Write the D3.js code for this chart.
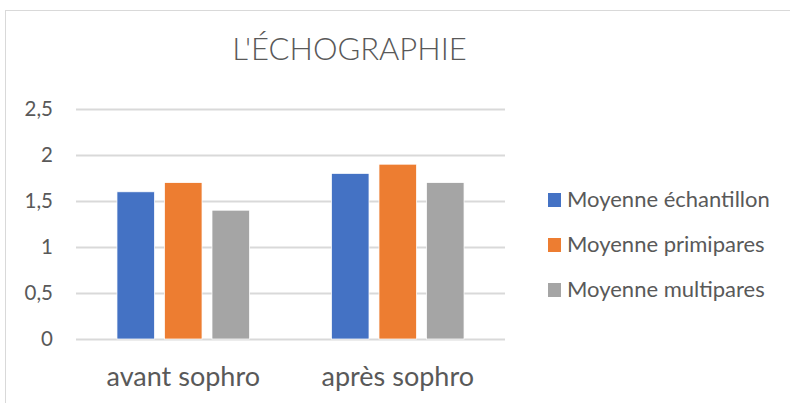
<!DOCTYPE html>
<html><head><meta charset="utf-8">
<script src="https://cdn.jsdelivr.net/npm/d3@7"></script>
<style>html,body{margin:0;padding:0;background:#fff;}svg{display:block;}</style>
</head><body>
<svg id="chart" width="790" height="403"></svg>
<script>
const title = "L'ÉCHOGRAPHIE";
const categories = ["avant sophro", "après sophro"];
const seriesNames = ["Moyenne échantillon", "Moyenne primipares", "Moyenne multipares"];
const seriesColors = ["#4472C4", "#ED7D31", "#A5A5A5"];
const echantillon = [1.6, 1.8];
const primipares = [1.7, 1.9];
const multipares = [1.4, 1.7];
const yTicks = [0, 0.5, 1, 1.5, 2, 2.5];
const yTickLabels = ["0", "0,5", "1", "1,5", "2", "2,5"];

(function () {
const seriesValues = [echantillon, primipares, multipares];
const font = "Lato, 'Open Sans', sans-serif";
const textColor = "#595959";
const svg = d3.select("#chart");

// chart border (cropped Excel frame)
svg.append("rect").attr("x", 5.5).attr("y", 10.5).attr("width", 900).attr("height", 500)
  .attr("fill", "none").attr("stroke", "#d9d9d9").attr("stroke-width", 1);

const pLeft = 76, pRight = 505, pTop = 109, pBottom = 339;
const x0 = d3.scaleBand().domain(categories).range([pLeft, pRight]).paddingInner(0.382).paddingOuter(0.191);
const x1 = d3.scaleBand().domain(seriesNames).range([0, x0.bandwidth()]).paddingInner(0.21).paddingOuter(0);
const y = d3.scaleLinear().domain([0, 2.5]).range([pBottom, pTop]);

// gridlines
const yAxis = d3.axisLeft(y).tickValues(yTicks).tickSize(-(pRight - pLeft)).tickFormat((d, i) => yTickLabels[i]).tickPadding(23);
const gy = svg.append("g").attr("transform", `translate(${pLeft},0)`).call(yAxis);
gy.select(".domain").remove();
gy.selectAll(".tick line").attr("stroke", "#d9d9d9").attr("stroke-width", 2);
gy.selectAll(".tick text").attr("fill", textColor).attr("font-family", font).attr("font-size", 20.5);

// bars
const groups = svg.append("g").selectAll("g").data(categories).join("g")
  .attr("transform", d => `translate(${x0(d)},0)`);
groups.selectAll("rect").data((c, ci) => seriesNames.map((s, si) => ({s, si, v: seriesValues[si][ci]})))
  .join("rect")
  .attr("x", d => x1(d.s)).attr("width", x1.bandwidth())
  .attr("y", d => y(d.v)).attr("height", d => y(0) - y(d.v))
  .attr("fill", d => seriesColors[d.si]).attr("stroke", "#fff").attr("stroke-width", 0.75);

// x axis labels
const xAxis = d3.axisBottom(x0).tickSize(0).tickPadding(0);
const gx = svg.append("g").attr("transform", `translate(0,${pBottom})`).call(xAxis);
gx.select(".domain").remove();
gx.selectAll(".tick text").attr("fill", textColor).attr("font-family", font).attr("font-size", 27)
  .attr("dy", null).attr("y", 47);

// title
svg.append("text").attr("x", 349.5).attr("y", 60).attr("text-anchor", "middle")
  .attr("fill", textColor).attr("font-family", font).attr("font-size", 31).attr("font-weight", 300)
  .text(title);

// legend
const legend = svg.append("g").selectAll("g").data(seriesNames).join("g")
  .attr("transform", (d, i) => `translate(548,${193 + i * 45})`);
legend.append("rect").attr("width", 13).attr("height", 14).attr("fill", (d, i) => seriesColors[i]);
legend.append("text").attr("x", 19).attr("y", 14).attr("fill", textColor)
  .attr("font-family", font).attr("font-size", 22).text(d => d);
})();
</script>
</body></html>
